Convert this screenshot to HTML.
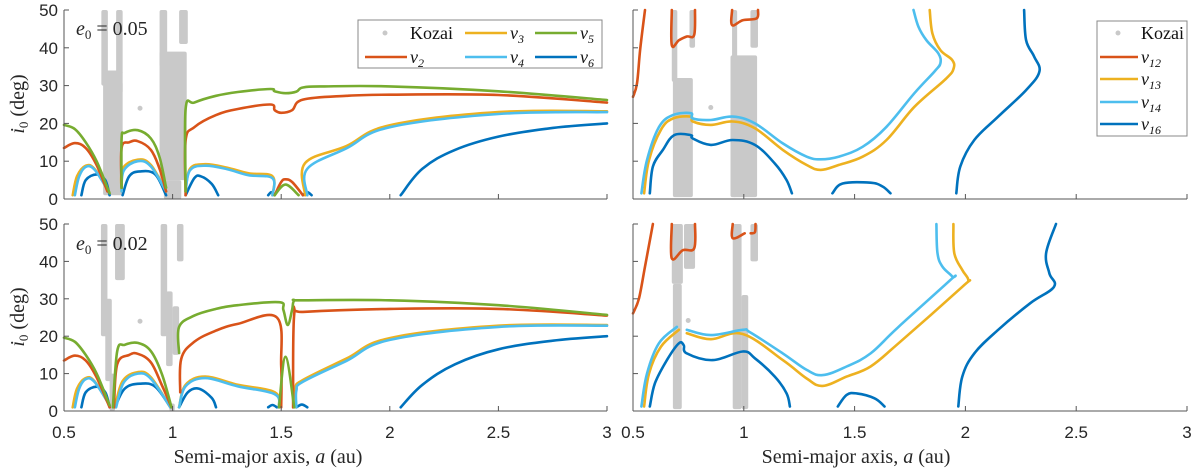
<!DOCTYPE html>
<html><head><meta charset="utf-8">
<style>
body{margin:0;background:#fff;}
svg{display:block;}
.tick{font-family:"Liberation Sans",sans-serif;font-size:17px;fill:#262626;}
.lab{font-family:"Liberation Serif",serif;font-size:20px;fill:#262626;}
.leg{font-family:"Liberation Serif",serif;font-size:18px;fill:#111;}
</style></head>
<body>
<svg id="chart" width="1200" height="471" viewBox="0 0 1200 471" xmlns="http://www.w3.org/2000/svg"></svg>
<script>
// ---- data (a in au, i0 in deg) ----
const xTicks = [0.5, 1, 1.5, 2, 2.5, 3];
const xTickLabels = ["0.5", "1", "1.5", "2", "2.5", "3"];
const yTicks = [0, 10, 20, 30, 40, 50];
const yTickLabels = ["0", "10", "20", "30", "40", "50"];

// Top-left (e0 = 0.05)
const tl_kozai = [[0.672,0.702,30,50],[0.68,0.77,1,31],[0.74,0.77,33,50],[0.695,0.77,28,34],[0.94,0.975,35,50],[1.03,1.07,41,50],[0.94,1.065,5,39],[0.96,1.04,0,5]];
const tl_kozaiDot = [[0.85,24]];
const tl_nu2 = [[[0.5,13.5],[0.55,14.8],[0.6,13.5],[0.65,9],[0.7,2]],[[0.765,3],[0.765,13.5],[0.8,15],[0.84,15.3],[0.9,13],[0.94,8],[0.97,2]],[[1.06,1],[1.06,15.5],[1.1,19],[1.2,22.2],[1.3,23.8],[1.45,25],[1.47,23.5],[1.5,22.8],[1.55,23.5],[1.6,26.3],[1.8,27.3],[2,27.6],[2.5,27.5],[3,25.5]],[[1.47,1],[1.5,4.5],[1.52,5.2],[1.55,4.5],[1.6,1]]];
const tl_nu3 = [[[0.54,1],[0.56,6],[0.6,8.8],[0.64,8],[0.7,2.5]],[[0.765,2],[0.77,8],[0.84,10.4],[0.9,9],[0.97,2]],[[1.06,2],[1.08,8],[1.15,9.2],[1.25,8.3],[1.35,6.8],[1.46,6],[1.46,1]],[[1.61,1],[1.61,9.5],[1.8,14],[2,19.5],[2.5,23],[3,23.2]]];
const tl_nu4 = [[[0.55,1],[0.57,6],[0.6,8.5],[0.64,7.8],[0.7,2.5]],[[0.765,2],[0.775,7.5],[0.84,10],[0.9,8.6],[0.97,2]],[[1.06,2],[1.08,7.6],[1.15,8.8],[1.25,7.9],[1.35,6.3],[1.46,5.5],[1.46,1]],[[1.62,1],[1.62,8],[1.8,13.4],[2,19],[2.5,22.5],[3,23]]];
const tl_nu5 = [[[0.5,19.6],[0.55,18.5],[0.6,15],[0.65,10],[0.7,3],[0.71,1.5]],[[0.765,3],[0.765,16],[0.78,17.5],[0.84,18.2],[0.9,16],[0.94,11],[0.97,3]],[[1.06,2],[1.06,23.8],[1.1,25.5],[1.2,27.3],[1.3,28.3],[1.45,29.1],[1.47,28.5],[1.52,28],[1.57,28.4],[1.6,29.5],[1.7,29.8],[2,29.8],[2.5,28.5],[3,26.2]],[[1.47,1],[1.52,3.8],[1.58,1]]];
const tl_nu6 = [[[0.58,1],[0.6,5],[0.65,6.5],[0.69,5],[0.71,1]],[[0.77,1],[0.8,6],[0.85,7.3],[0.92,6.5],[0.97,1]],[[1.06,1],[1.1,5.5],[1.13,6],[1.18,4],[1.21,1]],[[1.44,1],[1.455,1.8],[1.47,1]],[[1.6,1],[1.62,1.8],[1.64,1]],[[2.05,1],[2.15,8],[2.3,13],[2.5,16.5],[2.75,18.8],[3,20]]];

// Bottom-left (e0 = 0.02)
const bl_kozai = [[0.67,0.70,20,50],[0.69,0.72,8,30],[0.71,0.735,0,10],[0.735,0.78,35,50],[0.945,0.975,20,50],[0.97,1.0,12,32],[1.0,1.03,15,28],[0.985,1.01,0,2],[1.02,1.05,40,50]];
const bl_kozaiDot = [[0.85,24]];
const bl_nu2 = [[[0.5,13.5],[0.55,14.8],[0.6,13.5],[0.65,9],[0.71,1]],[[0.73,1],[0.745,12.5],[0.8,15],[0.84,15.3],[0.9,13],[0.95,7],[0.995,1]],[[1.035,5],[1.04,14],[1.1,18.5],[1.2,21.5],[1.3,23.3],[1.48,25],[1.5,12],[1.5,1]],[[1.555,1],[1.56,25.8],[1.6,26.5],[2,27.3],[2.5,27.3],[3,25.5]]];
const bl_nu3 = [[[0.54,1],[0.56,6],[0.6,8.8],[0.64,8],[0.71,1.5]],[[0.735,1],[0.77,8],[0.84,10.4],[0.9,9],[0.99,1]],[[1.03,1],[1.06,7],[1.15,9.2],[1.3,7],[1.47,5],[1.49,1]],[[1.565,1],[1.565,6],[1.6,8.3],[1.8,14],[2,19.5],[2.5,22.8],[3,23]]];
const bl_nu4 = [[[0.55,1],[0.57,6],[0.6,8.5],[0.64,7.8],[0.71,1.5]],[[0.74,1],[0.775,7.6],[0.84,10],[0.9,8.6],[0.99,1]],[[1.03,1],[1.06,6.6],[1.15,8.8],[1.3,6.6],[1.47,4.5],[1.49,1]],[[1.57,1],[1.57,5.5],[1.6,7.8],[1.8,13.4],[2,19],[2.5,22.5],[3,22.8]]];
const bl_nu5 = [[[0.5,19.6],[0.55,18.5],[0.6,15],[0.65,10],[0.7,3],[0.71,1.5]],[[0.725,1],[0.745,16],[0.78,17.7],[0.84,18.2],[0.9,16],[0.95,10],[0.995,1]],[[1.03,15.5],[1.03,22.5],[1.1,25.5],[1.2,27.3],[1.3,28.3],[1.49,29.1],[1.51,27],[1.53,23],[1.55,27],[1.56,29.5],[1.6,29.6],[2,29.6],[2.5,28.3],[3,25.7]],[[1.49,1],[1.52,14.5],[1.56,1]]];
const bl_nu6 = [[[0.58,1],[0.6,5],[0.65,6.5],[0.69,5],[0.71,1]],[[0.735,1],[0.78,6],[0.85,7.3],[0.92,6.5],[0.99,1]],[[1.03,1],[1.07,5],[1.12,6],[1.18,3.5],[1.2,1]],[[1.44,1],[1.46,1.6],[1.48,1]],[[1.57,1],[1.595,1.7],[1.62,1]],[[2.05,1],[2.15,7],[2.3,12.5],[2.5,16.5],[2.75,18.8],[3,20]]];

// Top-right (e0 = 0.05)
const tr_kozai = [[0.675,0.7,31,50],[0.68,0.77,0.5,32],[0.755,0.78,40,50],[0.947,0.97,0.5,50],[0.94,1.06,0.5,38],[1.03,1.064,40,50]];
const tr_kozaiDot = [[0.851,24.2]];
const tr_nu12 = [[[0.5,27],[0.518,30.6],[0.532,39.4],[0.554,50]],[[0.675,50],[0.675,40.7],[0.707,42],[0.743,43],[0.776,43.4],[0.78,50]],[[0.947,50],[0.947,46],[0.995,47.3],[1.058,47.8],[1.064,50]]];
const tr_nu13 = [[[0.55,1.5],[0.572,10.3],[0.626,18.3],[0.68,21.3],[0.761,21.8],[0.77,20.5],[0.851,19.6],[0.95,20.5],[1.05,18.7],[1.176,13],[1.284,9],[1.347,7.7],[1.428,9],[1.536,11.2],[1.644,15.6],[1.77,24.4],[1.914,31.9],[1.947,34.6],[1.94,36.8],[1.887,39.4],[1.851,43.8],[1.839,50]]];
const tr_nu14 = [[[0.538,1.5],[0.563,10.3],[0.617,19],[0.68,22.2],[0.761,22.7],[0.77,21.3],[0.851,20.9],[0.95,21.8],[1.05,20],[1.176,14.7],[1.284,11.2],[1.347,10.5],[1.428,11.2],[1.536,13.8],[1.644,19.1],[1.77,28],[1.86,33.7],[1.887,35.9],[1.878,38.5],[1.824,42],[1.788,45.6],[1.766,50]]];
const tr_nu16 = [[[0.576,1.5],[0.59,8.6],[0.635,13],[0.686,16.9],[0.761,16.9],[0.77,16],[0.851,14.3],[0.95,15.6],[1.05,14.3],[1.14,9.4],[1.193,5],[1.217,1.5]],[[1.4,1.5],[1.446,4.1],[1.572,4.3],[1.626,3.3],[1.662,1.5]],[[1.959,1.5],[1.977,8.6],[2.04,15.6],[2.148,21.8],[2.274,28.8],[2.334,33.7],[2.31,37.7],[2.274,42],[2.265,50]]];

// Bottom-right (e0 = 0.02)
const br_kozai = [[0.675,0.725,34,50],[0.68,0.72,0.5,34],[0.73,0.78,38,50],[0.95,0.99,0.5,50],[0.99,1.02,0.5,31],[1.03,1.064,40,50]];
const br_kozaiDot = [[0.749,24.2]];
const br_nu12 = [[[0.5,26.1],[0.527,30.1],[0.554,38.6],[0.59,50]],[[0.675,50],[0.675,40.8],[0.725,43],[0.776,43.5],[0.78,50]],[[0.95,50],[0.95,46.2],[1.004,47.5]],[[1.031,47.5],[1.05,47.8],[1.053,50]]];
const br_nu13 = [[[0.55,1.2],[0.572,10],[0.626,17.2],[0.707,21.7]],[[0.743,20.8],[0.851,19.2],[0.995,20.6],[1.176,13.6],[1.284,8.7],[1.356,6.7],[1.464,9.2],[1.572,11.9],[1.698,18.1],[1.986,33.2],[2.013,35],[1.986,37.7],[1.95,42.2],[1.946,50]]];
const br_nu14 = [[[0.538,1.2],[0.563,10],[0.617,18.1],[0.698,22.5]],[[0.743,21.7],[0.851,20.3],[0.995,21.7],[1.03,21],[1.176,15.4],[1.284,11],[1.356,9.6],[1.464,11.9],[1.572,15.4],[1.698,22.5],[1.932,35],[1.941,35.9],[1.896,38.6],[1.874,42.2],[1.869,50]]];
const br_nu16 = [[[0.576,1.2],[0.599,7.4],[0.653,13.6],[0.707,18.1],[0.729,17.6],[0.743,15.4],[0.86,13.6],[0.995,15.9],[1.05,14.1],[1.14,9.2],[1.193,4.7],[1.208,1.2]],[[1.424,1.2],[1.464,4.3],[1.509,4.7],[1.59,3.4],[1.635,1.2]],[[1.968,1.2],[1.986,9.2],[2.04,15.4],[2.148,21.7],[2.292,28.8],[2.4,33.2],[2.379,36.8],[2.364,42.2],[2.409,50]]];

// ---- rendering ----
const NS = "http://www.w3.org/2000/svg";
const svg = document.getElementById("chart");
const C = {nu2:"#D95319", nu3:"#EDB120", nu4:"#4DBEEE", nu5:"#77AC30", nu6:"#0072BD", gray:"#c9c9c9", axis:"#555"};
function mk(tag, attrs, parent){
  const e = document.createElementNS(NS, tag);
  for (const k in attrs) e.setAttribute(k, attrs[k]);
  (parent || svg).appendChild(e);
  return e;
}
function makePanel(name, x0, x1, yT, yB, showYLabels, showXLabels){
  const g = mk("g", {});
  
  
  const sx = a => x0 + (a - 0.5) / 2.5 * (x1 - x0);
  const sy = v => yB - v / 50 * (yB - yT);
  return {g, sx, sy, x0, x1, yT, yB, showYLabels, showXLabels};
}
function drawAxes(p){
  const ax = mk("g", {}, p.g);
  
  
  mk("line", {x1:p.x0, y1:p.yT, x2:p.x0, y2:p.yB, stroke:C.axis, "stroke-width":1}, ax);
  mk("line", {x1:p.x0, y1:p.yB, x2:p.x1, y2:p.yB, stroke:C.axis, "stroke-width":1}, ax);
  yTicks.forEach((v, k) => {
    const y = p.sy(v);
    mk("line", {x1:p.x0, y1:y, x2:p.x0 + 5, y2:y, stroke:C.axis}, ax);
    if (p.showYLabels){
      const t = mk("text", {x:p.x0 - 6, y:y + 6, "text-anchor":"end", class:"tick"}, ax);
      t.textContent = yTickLabels[k];
      
      
    }
  });
  xTicks.forEach((v, k) => {
    const x = p.sx(v);
    mk("line", {x1:x, y1:p.yB, x2:x, y2:p.yB - 5, stroke:C.axis}, ax);
    if (p.showXLabels){
      const t = mk("text", {x:x, y:p.yB + 27, "text-anchor":"middle", class:"tick"}, ax);
      t.textContent = xTickLabels[k];
      
      
    }
  });
}
function drawKozai(p, rects, dots){
  const g = mk("g", {}, p.g);
  
  
  rects.forEach(r => {
    const el = mk("rect", {x:p.sx(r[0]), y:p.sy(r[3]), width:p.sx(r[1]) - p.sx(r[0]), height:p.sy(r[2]) - p.sy(r[3]), fill:C.gray, rx:2}, g);
    
    
  });
  dots.forEach(d => {
    const el = mk("circle", {cx:p.sx(d[0]), cy:p.sy(d[1]), r:2.5, fill:C.gray}, g);
    
    
  });
}
function smoothPath(P){
  if (P.length < 3) return "M" + P.map(q => q[0].toFixed(1) + "," + q[1].toFixed(1)).join(" L");
  let d = "M" + P[0][0].toFixed(1) + "," + P[0][1].toFixed(1);
  const t = 0.18;
  for (let i = 0; i < P.length - 1; i++){
    const p0 = P[Math.max(0, i - 1)], p1 = P[i], p2 = P[i + 1], p3 = P[Math.min(P.length - 1, i + 2)];
    const c1 = [p1[0] + (p2[0] - p0[0]) * t, p1[1] + (p2[1] - p0[1]) * t];
    const c2 = [p2[0] - (p3[0] - p1[0]) * t, p2[1] - (p3[1] - p1[1]) * t];
    d += " C" + c1[0].toFixed(1) + "," + c1[1].toFixed(1) + " " + c2[0].toFixed(1) + "," + c2[1].toFixed(1) + " " + p2[0].toFixed(1) + "," + p2[1].toFixed(1);
  }
  return d;
}
function drawSeries(p, segs, color, name){
  const g = mk("g", {}, p.g);
  
  
  segs.forEach(s => {
    const pts = s.map(q => [p.sx(q[0]), p.sy(q[1])]);
    const el = mk("path", {d:smoothPath(pts), fill:"none", stroke:color, "stroke-width":2.6, "stroke-linejoin":"round", "stroke-linecap":"round"}, g);
    
    
  });
}
function text(parent, x, y, html, cls, name, extra){
  const t = mk("text", Object.assign({x:x, y:y, class:cls}, extra || {}), parent);
  t.innerHTML = html;
  
  
  return t;
}

const TL = makePanel("panel-top-left", 64, 607, 10, 199, true, false);
const BL = makePanel("panel-bottom-left", 64, 607, 224, 411, true, true);
const TR = makePanel("panel-top-right", 633, 1187, 10, 199, false, false);
const BR = makePanel("panel-bottom-right", 633, 1187, 224, 411, false, true);

drawKozai(TL, tl_kozai, tl_kozaiDot);
drawSeries(TL, tl_nu6, C.nu6, "nu6-line");
drawSeries(TL, tl_nu3, C.nu3, "nu3-line");
drawSeries(TL, tl_nu4, C.nu4, "nu4-line");
drawSeries(TL, tl_nu2, C.nu2, "nu2-line");
drawSeries(TL, tl_nu5, C.nu5, "nu5-line");
drawAxes(TL);

drawKozai(BL, bl_kozai, bl_kozaiDot);
drawSeries(BL, bl_nu6, C.nu6, "nu6-line");
drawSeries(BL, bl_nu3, C.nu3, "nu3-line");
drawSeries(BL, bl_nu4, C.nu4, "nu4-line");
drawSeries(BL, bl_nu2, C.nu2, "nu2-line");
drawSeries(BL, bl_nu5, C.nu5, "nu5-line");
drawAxes(BL);

drawKozai(TR, tr_kozai, tr_kozaiDot);
drawSeries(TR, tr_nu12, C.nu2, "nu12-line");
drawSeries(TR, tr_nu13, C.nu3, "nu13-line");
drawSeries(TR, tr_nu14, C.nu4, "nu14-line");
drawSeries(TR, tr_nu16, C.nu6, "nu16-line");
drawAxes(TR);

drawKozai(BR, br_kozai, br_kozaiDot);
drawSeries(BR, br_nu12, C.nu2, "nu12-line");
drawSeries(BR, br_nu13, C.nu3, "nu13-line");
drawSeries(BR, br_nu14, C.nu4, "nu14-line");
drawSeries(BR, br_nu16, C.nu6, "nu16-line");
drawAxes(BR);

// annotations
text(svg, 76, 35, '<tspan font-style="italic">e</tspan><tspan font-size="13" dy="4">0</tspan><tspan dy="-4"> = 0.05</tspan>', "lab", "eccentricity-label-top");
text(svg, 76, 250, '<tspan font-style="italic">e</tspan><tspan font-size="13" dy="4">0</tspan><tspan dy="-4"> = 0.02</tspan>', "lab", "eccentricity-label-bottom");
[[104],[317]].forEach((c, k) => {
  text(svg, 24, c[0], '<tspan font-style="italic">i</tspan><tspan font-size="13" dy="4">0</tspan><tspan dy="-4"> (deg)</tspan>', "lab", "y-axis-title", {transform:"rotate(-90 24 " + c[0] + ")", "text-anchor":"middle"});
});
text(svg, 268, 463, 'Semi-major axis, <tspan font-style="italic">a</tspan> (au)', "lab", "x-axis-title", {"text-anchor":"middle"});
text(svg, 856, 463, 'Semi-major axis, <tspan font-style="italic">a</tspan> (au)', "lab", "x-axis-title", {"text-anchor":"middle"});

// legend top-left
const lg1 = mk("g", {});


mk("rect", {x:358, y:20, width:244, height:48, fill:"#fff", stroke:"#888", "stroke-width":1}, lg1);
const leg1 = [["dot",385,33,"Kozai",410],[C.nu3,465,33,"ν<tspan font-size='12' dy='4'>3</tspan>",510],[C.nu5,535,33,"ν<tspan font-size='12' dy='4'>5</tspan>",580],
  [C.nu2,365,57,"ν<tspan font-size='12' dy='4'>2</tspan>",410],[C.nu4,465,57,"ν<tspan font-size='12' dy='4'>4</tspan>",510],[C.nu6,535,57,"ν<tspan font-size='12' dy='4'>6</tspan>",580]];
leg1.forEach(e => {
  const g = mk("g", {}, lg1);
  
  
  if (e[0] === "dot") mk("circle", {cx:e[1], cy:e[2], r:2.5, fill:C.gray}, g);
  else mk("line", {x1:e[1], y1:e[2], x2:e[1] + 42, y2:e[2], stroke:e[0], "stroke-width":2.6}, g);
  text(g, e[4], e[2] + 6, e[3], "leg", "legend-label", {"font-style": e[3] === "Kozai" ? "normal" : "italic"});
});

// legend right
const lg2 = mk("g", {});


mk("rect", {x:1097, y:21, width:90, height:115, fill:"#fff", stroke:"#888", "stroke-width":1}, lg2);
const leg2 = [["dot","Kozai",33],[C.nu2,"ν<tspan font-size='12' dy='4'>12</tspan>",57],[C.nu3,"ν<tspan font-size='12' dy='4'>13</tspan>",79],[C.nu4,"ν<tspan font-size='12' dy='4'>14</tspan>",102],[C.nu6,"ν<tspan font-size='12' dy='4'>16</tspan>",124]];
leg2.forEach(e => {
  const g = mk("g", {}, lg2);
  
  
  if (e[0] === "dot") mk("circle", {cx:1118, cy:e[2], r:2.5, fill:C.gray}, g);
  else mk("line", {x1:1100, y1:e[2], x2:1138, y2:e[2], stroke:e[0], "stroke-width":2.6}, g);
  text(g, 1141, e[2] + 6, e[1], "leg", "legend-label", {"font-style": e[1] === "Kozai" ? "normal" : "italic"});
});
</script>
</body></html>
